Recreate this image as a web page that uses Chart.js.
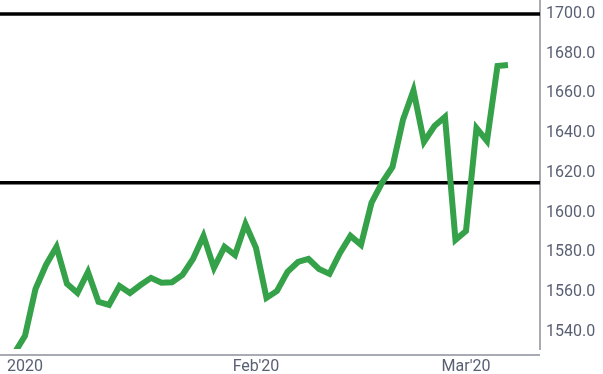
<!DOCTYPE html>
<html>
<head>
<meta charset="utf-8">
<script src="https://cdn.jsdelivr.net/npm/chart.js@4"></script>
<style>
    html, body { margin: 0; padding: 0; background: #fff; }
    #wrap { width: 603px; height: 374px; }
</style>
</head>
<body>
<div id="wrap"><canvas id="priceChart"></canvas></div>
<script>
// Daily closes, one per trading day (first value is the day before the first label)
const prices = [
    1529.4, 1538.0, 1561.6, 1573.7, 1582.8, 1564.2, 1559.6, 1570.2, 1555.1, 1553.6,
    1563.1, 1559.6, 1563.6, 1567.2, 1564.7, 1565.0, 1568.7, 1576.7, 1588.3, 1572.2,
    1582.8, 1578.7, 1594.3, 1582.3, 1557.1, 1560.6, 1570.2, 1575.2, 1576.7, 1571.7,
    1569.2, 1579.7, 1588.3, 1583.8, 1604.9, 1615.0, 1623.0, 1646.7, 1661.5, 1635.6,
    1643.6, 1648.2, 1586.3, 1590.8, 1642.6, 1636.1, 1673.8, 1674.3
];
const firstIndex = -1;

// x tick labels and where they sit (trading-day index)
const xTickIndex = [0, 22, 42];
const xTickLabels = ['2020', "Feb'20", "Mar'20"];

// y ticks and horizontal reference levels
const yTicks = [1540, 1560, 1580, 1600, 1620, 1640, 1660, 1680, 1700];
const refLevels = [1700, 1615];

const points = prices.map((v, i) => ({ x: i + firstIndex, y: v }));

const refLinesPlugin = {
    id: 'refLines',
    beforeDatasetsDraw(chart) {
        const { ctx, chartArea, scales } = chart;
        ctx.save();
        ctx.strokeStyle = '#000';
        ctx.lineWidth = 3.5;
        refLevels.forEach(level => {
            const y = scales.y.getPixelForValue(level);
            ctx.beginPath();
            ctx.moveTo(chartArea.left, y);
            ctx.lineTo(chartArea.right, y);
            ctx.stroke();
        });
        ctx.restore();
    },
    afterDraw(chart) {
        // bottom axis rule sits a little below the plot
        const { ctx, chartArea } = chart;
        ctx.save();
        ctx.strokeStyle = '#a8abb3';
        ctx.lineWidth = 2;
        ctx.beginPath();
        ctx.moveTo(chartArea.left, chartArea.bottom + 6);
        ctx.lineTo(chartArea.right, chartArea.bottom + 6);
        ctx.stroke();
        ctx.restore();
    }
};

Chart.defaults.font.family = 'Roboto, "Noto Sans", sans-serif';
Chart.defaults.font.size = 16;
Chart.defaults.color = '#5a6074';

new Chart(document.getElementById('priceChart').getContext('2d'), {
    type: 'line',
    data: {
        datasets: [{
            data: points,
            borderColor: '#35a24a',
            borderWidth: 6,
            pointRadius: 0,
            tension: 0,
            fill: false,
            clip: 0
        }]
    },
    options: {
        responsive: true,
        maintainAspectRatio: false,
        animation: false,
        layout: { padding: 0 },
        plugins: { legend: { display: false }, tooltip: { enabled: false } },
        scales: {
            x: {
                type: 'linear',
                min: -2.38,
                max: 49.05,
                grid: { display: false, drawTicks: false },
                border: { display: false },
                afterBuildTicks: axis => { axis.ticks = xTickIndex.map(v => ({ value: v })); },
                afterFit: axis => { axis.height = 25; axis.paddingLeft = 0; axis.paddingRight = 0; },
                ticks: {
                    padding: 8,
                    maxRotation: 0,
                    autoSkip: false,
                    callback: v => xTickLabels[xTickIndex.indexOf(v)]
                }
            },
            y: {
                position: 'right',
                min: 1531.4,
                max: 1707,
                grid: { display: false, drawTicks: false },
                border: { display: true, color: '#a8abb3', width: 2 },
                afterBuildTicks: axis => { axis.ticks = yTicks.map(v => ({ value: v })); },
                afterFit: axis => { axis.width = 63; axis.paddingTop = 0; axis.paddingBottom = 0; },
                ticks: {
                    padding: 6,
                    callback: v => v.toFixed(1)
                }
            }
        }
    },
    plugins: [refLinesPlugin]
});
</script>
</body>
</html>
